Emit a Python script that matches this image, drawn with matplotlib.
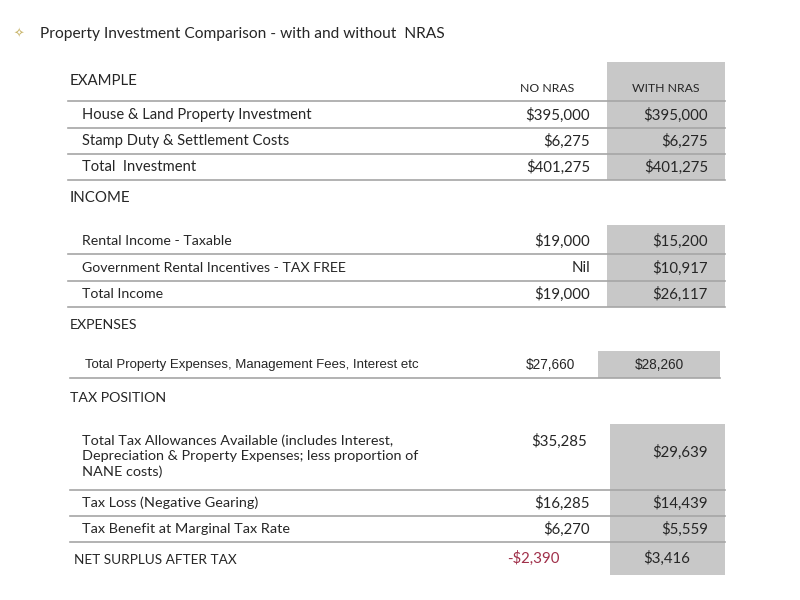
import matplotlib.pyplot as plt
import matplotlib.patches as patches

# Data
sections = ["EXAMPLE", "INCOME", "EXPENSES", "TAX POSITION"]
col_headers = ["NO NRAS", "WITH NRAS"]
example_rows = ["House & Land Property Investment", "Stamp Duty & Settlement Costs", "Total  Investment"]
example_no = ["$395,000", "$6,275", "$401,275"]
example_with = ["$395,000", "$6,275", "$401,275"]
income_rows = ["Rental Income - Taxable", "Government Rental Incentives - TAX FREE", "Total Income"]
income_no = ["$19,000", "Nil", "$19,000"]
income_with = ["$15,200", "$10,917", "$26,117"]
expense_rows = ["Total Property Expenses, Management Fees, Interest etc"]
expense_no = ["$27,660"]
expense_with = ["$28,260"]
tax_rows = ["Total Tax Allowances Available (includes Interest,\nDepreciation & Property Expenses; less proportion of\nNANE costs)",
            "Tax Loss (Negative Gearing)", "Tax Benefit at Marginal Tax Rate"]
tax_no = ["$35,285", "$16,285", "$6,270"]
tax_with = ["$29,639", "$14,439", "$5,559"]
net_label = "NET SURPLUS AFTER TAX"
net_no = "-$2,390"
net_with = "$3,416"

FONT = "Lato"
GREY = "#c8c8c8"
LINE = "#a6a6a6"
TXT = "#262626"

fig = plt.figure(figsize=(8, 6), dpi=100)
ax = fig.add_axes([0, 0, 1, 1])
ax.set_xlim(0, 800)
ax.set_ylim(600, 0)
ax.axis("off")

def t(x, y, s, ha="left", size=10, color=TXT, family=FONT, va="center"):
    ax.text(x, y, s, ha=ha, va=va, fontsize=size, color=color, family=family, linespacing=1.3)

def box(x0, y0, x1, y1):
    ax.add_patch(patches.Rectangle((x0, y0), x1 - x0, y1 - y0, color=GREY, lw=0, zorder=0))

def hline(y, x0=68, x1=725):
    ax.plot([x0, x1], [y, y], color=LINE, lw=1.2)

# title
t(14, 34, "\u2727", size=9, color="#c9b56a", family="DejaVu Sans")
t(40, 34, "Property Investment Comparison - with and without  NRAS", size=11.2)

# EXAMPLE section
box(607, 62, 725, 180)
t(70, 81, sections[0], size=10.8)
t(547, 88, col_headers[0], ha="center", size=8.8)
t(666, 88, col_headers[1], ha="center", size=8.8)
hline(101)
ys = [115, 141, 167]
for i, y in enumerate(ys):
    t(82, y, example_rows[i], size=10.6)
    t(590, y, example_no[i], ha="right", size=10.8)
    t(708, y, example_with[i], ha="right", size=10.8)
    hline(y + 13)

# INCOME section
box(607, 225, 725, 307)
t(70, 198, sections[1], size=10.8)
ys = [241, 268, 294]
for i, y in enumerate(ys):
    t(82, y, income_rows[i], size=10.2)
    t(590, y, income_no[i], ha="right", size=10.8)
    t(708, y, income_with[i], ha="right", size=10.8)
    hline(y + 13)

# EXPENSES section
box(598, 351, 720, 378)
t(70, 325, sections[2], size=10.2)
t(85, 365, expense_rows[0], size=9.5, family="Liberation Sans")
t(575, 365, expense_no[0], ha="right", size=9.8, family="Liberation Sans")
t(659, 365, expense_with[0], ha="center", size=9.8, family="Liberation Sans")
hline(378, 70, 720)

# TAX POSITION section
box(610, 424, 725, 575)
t(70, 398, sections[3], size=10.2)
t(82, 456, tax_rows[0], size=10.4)
t(587, 441, tax_no[0], ha="right", size=10.8)
t(708, 452, tax_with[0], ha="right", size=10.8)
hline(490, 70, 725)
for i, y in enumerate([503, 529]):
    t(82, y, tax_rows[i + 1], size=10.4)
    t(590, y, tax_no[i + 1], ha="right", size=10.8)
    t(708, y, tax_with[i + 1], ha="right", size=10.8)
    hline(y + 13, 70, 725)
t(74, 560, net_label, size=9.8)
t(560, 558, net_no, ha="right", size=10.8, color="#a0304a")
t(690, 558, net_with, ha="right", size=10.8)

fig.savefig("out.png", dpi=100, facecolor="white")
